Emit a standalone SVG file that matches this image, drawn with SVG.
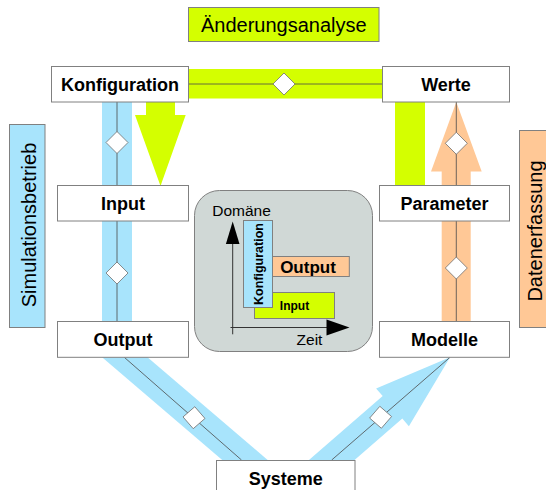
<svg xmlns="http://www.w3.org/2000/svg" width="546" height="490" viewBox="0 0 546 490">
<defs>
<style>
.box{fill:#fff;stroke:#808080;stroke-width:1}
.lbl{font-family:"Liberation Sans",Arial,sans-serif;font-weight:bold;font-size:18px;text-anchor:middle;fill:#000}
.reg{font-family:"Liberation Sans",Arial,sans-serif;text-anchor:middle;fill:#000}
.yel{fill:#d4ff00}
.blu{fill:#a8e4fc}
.org{fill:#ffc896}
.ln{stroke:#4a4a4a;stroke-width:0.8;fill:none}
.dia{fill:#fff;stroke:#707070;stroke-width:0.8}
.sbox{stroke:#808080;stroke-width:1}
</style>
<path id="d" class="dia" d="M0,-11L11,0L0,11L-11,0Z"/>
</defs>
<rect width="546" height="490" fill="#fff"/>

<g id="connectors">
  <rect class="yel" x="188" y="69" width="194" height="29.5"/>
  <line class="ln" x1="188" y1="84" x2="382" y2="84"/>
  <use href="#d" transform="translate(284,84)"/>

  <rect class="blu" x="102" y="102" width="30" height="220"/>
  <line class="ln" x1="117" y1="102" x2="117" y2="322"/>
  <use href="#d" transform="translate(117,142.5)"/>
  <use href="#d" transform="translate(117,273)"/>

  <polygon class="yel" points="146,102 175,102 175,115 185.7,115 160.5,186 135,115 146,115"/>

  <rect class="yel" x="395" y="102" width="30" height="84"/>

  <polygon class="org" points="441.7,322 441.7,171.5 431,171.5 456.3,102 481.7,171.5 470.7,171.5 470.7,322"/>
  <line class="ln" x1="456.3" y1="102" x2="456.3" y2="322"/>
  <use href="#d" transform="translate(456.3,143.3)"/>
  <use href="#d" transform="translate(456.3,268)"/>

  <polygon class="blu" points="93.6,350 139,350 275.8,467 230.4,467"/>
  <line class="ln" x1="124.3" y1="357.3" x2="241.5" y2="460"/>
  <use href="#d" transform="translate(194,417.7) rotate(4)"/>

  <polygon class="blu" points="300.9,467 382.7,396 376.1,388.4 450,357.3 408.9,426.2 402.3,418.6 346.5,467"/>
  <line class="ln" x1="331.7" y1="460" x2="450" y2="357.3"/>
  <use href="#d" transform="translate(380.6,417.3) rotate(-4)"/>
</g>

<g id="aenderungsanalyse">
  <rect class="yel sbox" x="188.5" y="7.5" width="190.5" height="34"/>
  <text class="reg" x="283.8" y="31.5" style="font-size:20px">Änderungsanalyse</text>
</g>
<g id="simulationsbetrieb">
  <rect class="blu sbox" x="9.5" y="124.5" width="35.5" height="203"/>
  <text class="reg" style="font-size:20px" transform="translate(35.5,225) rotate(-90)">Simulationsbetrieb</text>
</g>
<g id="datenerfassung">
  <rect class="org sbox" x="519.5" y="130.5" width="40" height="197"/>
  <text class="reg" style="font-size:20px" transform="translate(542,231) rotate(-90)">Datenerfassung</text>
</g>

<g id="konfiguration">
  <rect class="box" x="51.5" y="66.5" width="137" height="35.5"/>
  <text class="lbl" x="120" y="90.5">Konfiguration</text>
</g>
<g id="werte">
  <rect class="box" x="382.5" y="66.5" width="127" height="35.5"/>
  <text class="lbl" x="446" y="90.5">Werte</text>
</g>
<g id="input">
  <rect class="box" x="57.5" y="185.5" width="131" height="35.5"/>
  <text class="lbl" x="123" y="209.8">Input</text>
</g>
<g id="parameter">
  <rect class="box" x="379.5" y="185.5" width="130" height="35.5"/>
  <text class="lbl" x="444.5" y="209.8">Parameter</text>
</g>
<g id="output">
  <rect class="box" x="57.5" y="321.5" width="131" height="35.8"/>
  <text class="lbl" x="123" y="345.8">Output</text>
</g>
<g id="modelle">
  <rect class="box" x="379.5" y="321.5" width="130" height="35.8"/>
  <text class="lbl" x="444.5" y="345.8">Modelle</text>
</g>
<g id="systeme">
  <rect class="box" x="216.5" y="460.5" width="138.5" height="40"/>
  <text class="lbl" x="285.7" y="484.5">Systeme</text>
</g>

<g id="legende">
  <rect x="194.5" y="190.5" width="178" height="161" rx="25" ry="25" fill="#d0d8d6" stroke="#808080" stroke-width="1"/>
  <text class="reg" x="241.5" y="215.5" style="font-size:15.5px">Domäne</text>
  <line x1="232.7" y1="243" x2="232.7" y2="334.3" stroke="#333" stroke-width="1"/>
  <polygon points="232.7,221.5 239.5,244 225.9,244" fill="#000"/>
  <line x1="230.5" y1="327.5" x2="327" y2="327.5" stroke="#333" stroke-width="1"/>
  <polygon points="349.5,327.5 326.5,319.5 326.5,335.5" fill="#000"/>
  <text class="reg" x="309.5" y="344.5" style="font-size:15.5px">Zeit</text>
  <g id="leg-output">
    <rect class="org sbox" x="266.5" y="256.5" width="82.8" height="20"/>
    <text class="lbl" x="308" y="272.8" style="font-size:17px">Output</text>
  </g>
  <g id="leg-input">
    <rect class="yel sbox" x="254.5" y="292.5" width="80" height="26"/>
    <text class="lbl" x="294.5" y="310" style="font-size:12px">Input</text>
  </g>
  <g id="leg-konfiguration">
    <rect class="blu sbox" x="243.5" y="220.5" width="29" height="87"/>
    <text class="lbl" style="font-size:12.5px" transform="translate(262.5,264) rotate(-90)">Konfiguration</text>
  </g>
</g>
</svg>
